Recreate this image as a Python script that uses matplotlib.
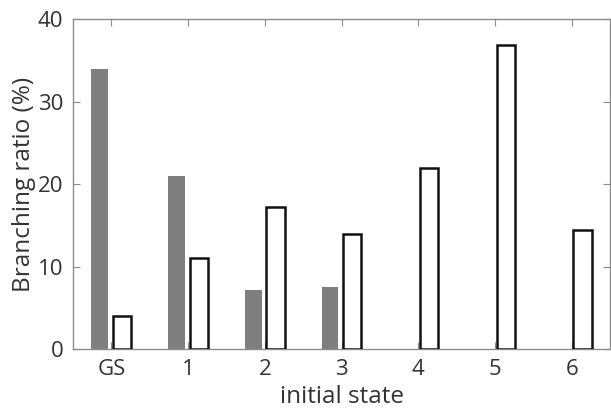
import numpy as np
from matplotlib import pyplot as plt

# data
states = ['GS', '1', '2', '3', '4', '5', '6']
gray_vals = [34.0, 21.0, 7.15, 7.5, 0.0, 0.0, 0.0]
white_vals = [4.0, 11.0, 17.25, 13.9, 22.0, 36.9, 14.4]

plt.rcParams['font.family'] = ['Open Sans', 'DejaVu Sans']

fig = plt.figure(figsize=(6.11, 4.09), dpi=100)
ax = fig.add_axes([0.1195, 0.1467, 0.879, 0.8068])

x = np.arange(1, len(states) + 1)
ax.bar(x - 0.15, gray_vals, width=0.22, color='#7f7f7f', edgecolor='none', zorder=2)
ax.bar(x + 0.14, white_vals, width=0.24, color='white', edgecolor='#111111', linewidth=1.8, zorder=3)

ax.set_xlim(0.5, 7.5)
ax.set_ylim(0, 40)
ax.set_xticks(x)
ax.set_xticklabels(states)
ax.set_yticks([0, 10, 20, 30, 40])

for s in ax.spines.values():
    s.set_color('#8c8c8c')
    s.set_linewidth(1.0)
ax.tick_params(direction='in', top=True, right=True, length=5, width=0.8,
               color='#8c8c8c', labelsize=16, labelcolor='#333333', pad=7)

ax.set_xlabel('initial state', fontsize=17.5, color='#333333', labelpad=4)
ax.set_ylabel('Branching ratio (%)', fontsize=17.5, color='#333333', labelpad=1)

plt.savefig('out.png', dpi=100)
